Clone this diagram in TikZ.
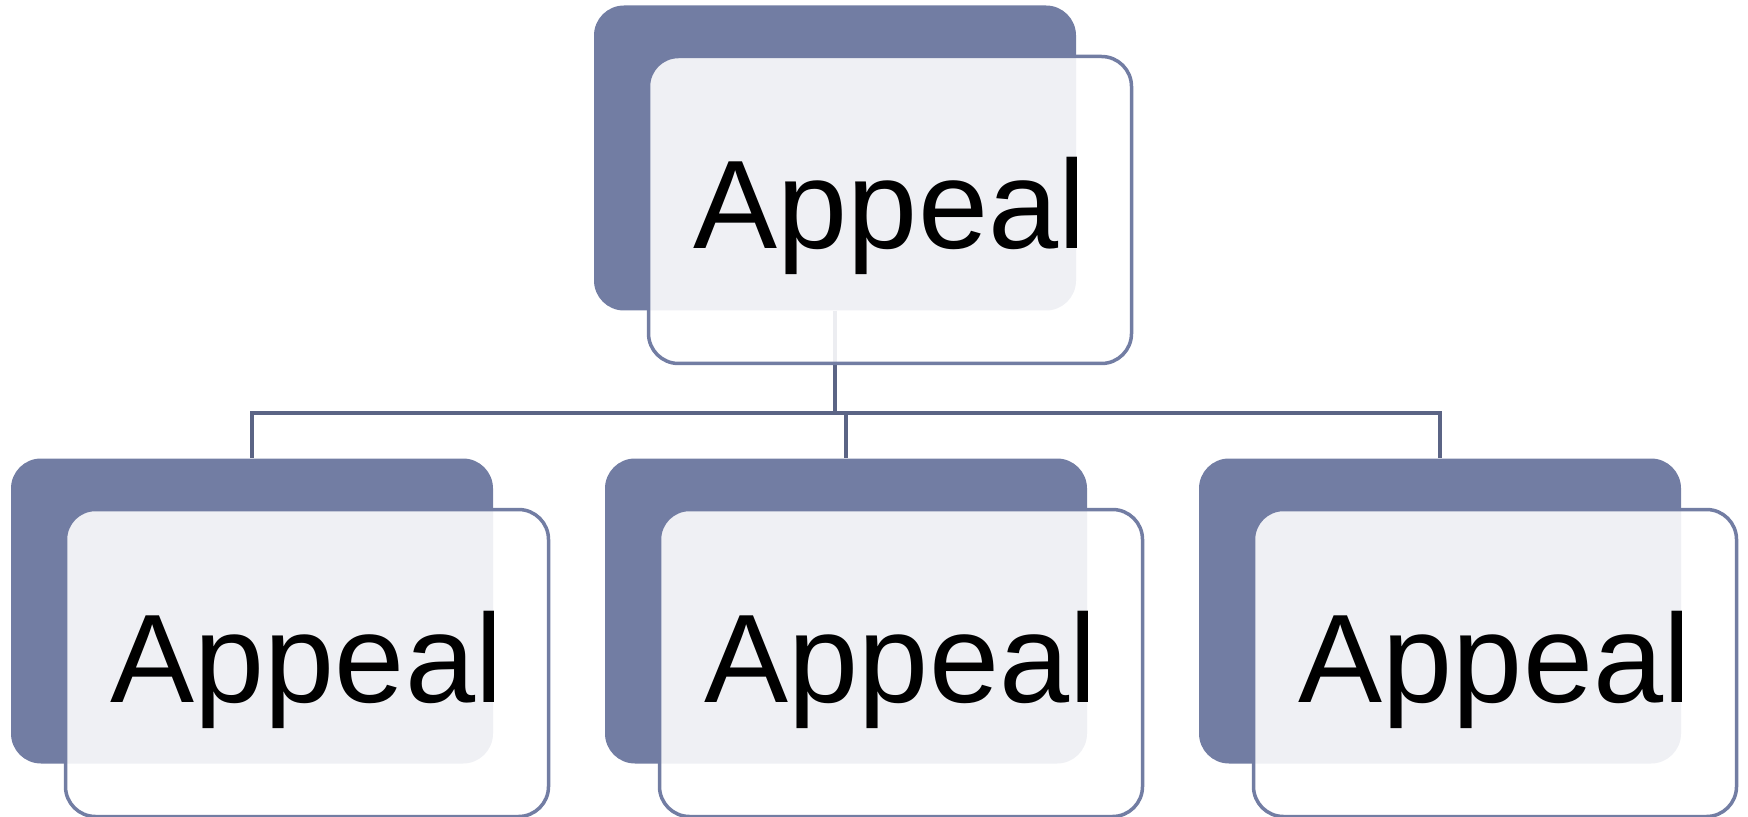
\documentclass[tikz,border=0pt]{standalone}
\usepackage{fontspec}
\setmainfont{Liberation Sans}
\usepackage{tikz}
\usetikzlibrary{calc, positioning}

\definecolor{slate}{RGB}{114,125,163}
\definecolor{slateline}{RGB}{91,100,133}

\begin{document}
\begin{tikzpicture}[x=0.5pt, y=-0.5pt,
        backbox/.style={rectangle, fill=slate, minimum width=241pt, minimum height=152.5pt, inner sep=0pt, rounded corners=15pt},
        frontbox/.style={rectangle, draw=slate, line width=1.75pt, fill=white, fill opacity=0.89, minimum width=241.5pt, minimum height=153.5pt, inner sep=0pt, rounded corners=15pt},
        boxtext/.style={anchor=base, inner sep=0pt, font=\fontsize{63}{75}\selectfont},
        link/.style={draw, slateline, line width=1.9pt}]

        \useasboundingbox (0,0) rectangle (1748,817);

        % back shapes
        \node [backbox] (topback) at (835,158) {};
        \node [backbox] (leftback) at (252,611) {};
        \node [backbox] (midback) at (846,611) {};
        \node [backbox] (rightback) at (1440,611) {};

        % connectors
        \coordinate (bus) at ($(topback.south)+(0,102)$);
        \path [link] (topback.south) -- (bus) -| (leftback.north);
        \path [link] (topback.south) -- (bus) -| (midback.north);
        \path [link] (topback.south) -- (bus) -| (rightback.north);

        % front shapes
        \node [frontbox] (topfront) at ($(topback)+(55,52)$) {};
        \node [frontbox] (leftfront) at ($(leftback)+(55,52)$) {};
        \node [frontbox] (midfront) at ($(midback)+(55,52)$) {};
        \node [frontbox] (rightfront) at ($(rightback)+(55,52)$) {};

        % labels, cut off at the back shape
        \foreach \b in {top, left, mid, right} {
            \begin{scope}
                \clip (\b back.south west) rectangle (\b back.north east);
                \node [boxtext] (\b text) at ($(\b front.center)+(0,39)$) {Appeal};
            \end{scope}
        }
    \end{tikzpicture}
\end{document}
